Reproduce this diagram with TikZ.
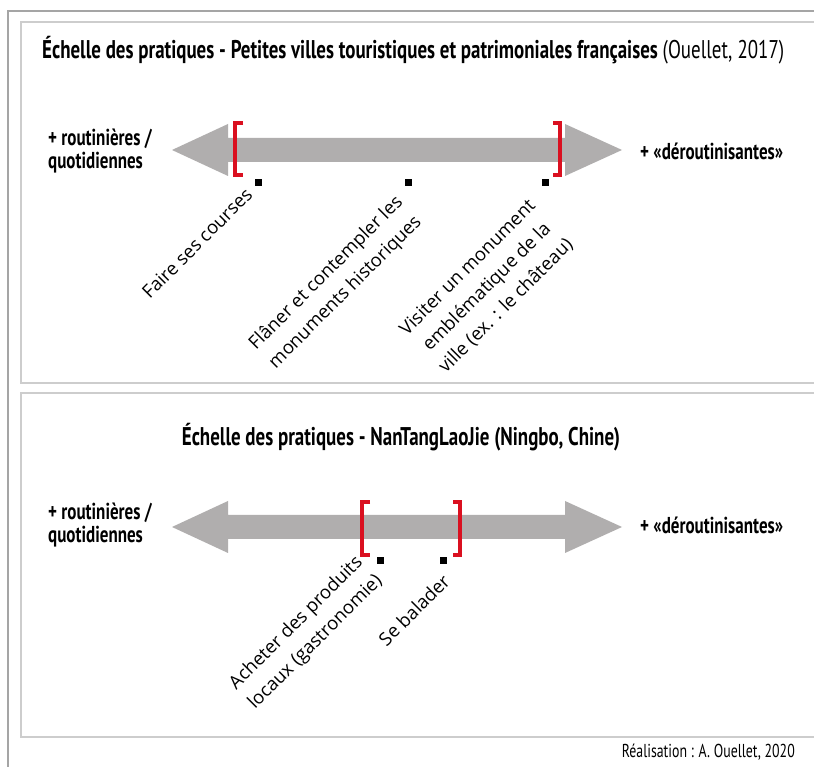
\documentclass[tikz,border=0pt]{standalone}
\usepackage{fontspec}
\setmainfont{Open Sans}
\newfontfamily\condfont[FakeStretch=0.74]{PT Sans}
\definecolor{bargray}{RGB}{176,174,174}
\definecolor{markred}{RGB}{218,16,32}
\definecolor{framegray}{RGB}{165,165,165}
\tikzset{
  frame/.style={draw=framegray, line width=1.2pt},
  panel/.style={draw=framegray!55, line width=1.5pt},
  scalebar/.style={fill=bargray},
  bracket/.style={draw=markred, line width=3.5pt},
  tick/.style={fill=black, minimum size=7pt, inner sep=0pt},
  pole/.style={font=\condfont\bfseries\fontsize{23}{23.5}\selectfont, align=left, inner sep=0pt},
  practice/.style={font=\fontsize{18.5}{27}\selectfont, align=center, rotate=45, inner sep=0pt},
  heading/.style={font=\condfont\bfseries\fontsize{25.6}{28}\selectfont, inner sep=0pt},
}
\begin{document}
\begin{tikzpicture}[x=1pt,y=1pt]
  \useasboundingbox (0,0) rectangle (814,767);
  \fill[white] (0,0) rectangle (814,767);
  % frames
  \draw[frame] (8,0) -- (8,756) -- (814,756);
  \draw[panel] (820,384) -- (21,384) -- (21,745) -- (820,745);
  \draw[panel] (820,30) -- (21,30) -- (21,374) -- (820,374);

  % upper scale
  \node[heading, anchor=west] (t1) at (42,717) {Échelle des pratiques - Petites villes touristiques et patrimoniales françaises \mdseries(Ouellet, 2017)};
  \fill[scalebar] (172,617) -- (228,643) -- (228,629) -- (565,629) -- (565,643) -- (622,617)
    -- (565,591) -- (565,605) -- (228,605) -- (228,591) -- cycle;
  \draw[bracket] (243,644) -- (235,644) -- (235,592) -- (243,592);
  \draw[bracket] (553,644) -- (560,644) -- (560,592) -- (553,592);
  \node[pole, anchor=west] (r1) at (48,616) {+ routinières /\\quotidiennes};
  \node[pole, anchor=west] (d1) at (640,616) {+ «déroutinisantes»};
  \node[tick] (s1) at (258,584) {};
  \node[tick] (s2) at (408,584) {};
  \node[tick] (s3) at (545,584) {};
  \node[practice] (p1) at (197,524) {Faire ses courses};
  \node[practice] (p2) at (336,484) {Flâner et contempler les\\monuments historiques};
  \node[practice] (p3) at (487,480) {Visiter un monument\\emblématique de la\\ville (ex. : le château)};

  % lower scale
  \node[heading] (t2) at (401,330) {Échelle des pratiques - NanTangLaoJie (Ningbo, Chine)};
  \fill[scalebar] (172,240) -- (228,266) -- (228,252) -- (565,252) -- (565,266) -- (622,240)
    -- (565,214) -- (565,228) -- (228,228) -- (228,214) -- cycle;
  \draw[bracket] (370,265) -- (362,265) -- (362,212) -- (370,212);
  \draw[bracket] (453,265) -- (460,265) -- (460,212) -- (453,212);
  \node[pole, anchor=west] (r2) at (48,242) {+ routinières /\\quotidiennes};
  \node[pole, anchor=west] (d2) at (640,242) {+ «déroutinisantes»};
  \node[tick] (s4) at (380,206) {};
  \node[tick] (s5) at (443,206) {};
  \node[practice] (p4) at (306,134) {Acheter des produits\\locaux (gastronomie)};
  \node[practice] (p5) at (414,157) {Se balader};

  \node[font=\condfont\fontsize{18.7}{20}\selectfont, anchor=east, inner sep=0pt] (cr) at (795,15) {Réalisation : A. Ouellet, 2020};
\end{tikzpicture}
\end{document}
